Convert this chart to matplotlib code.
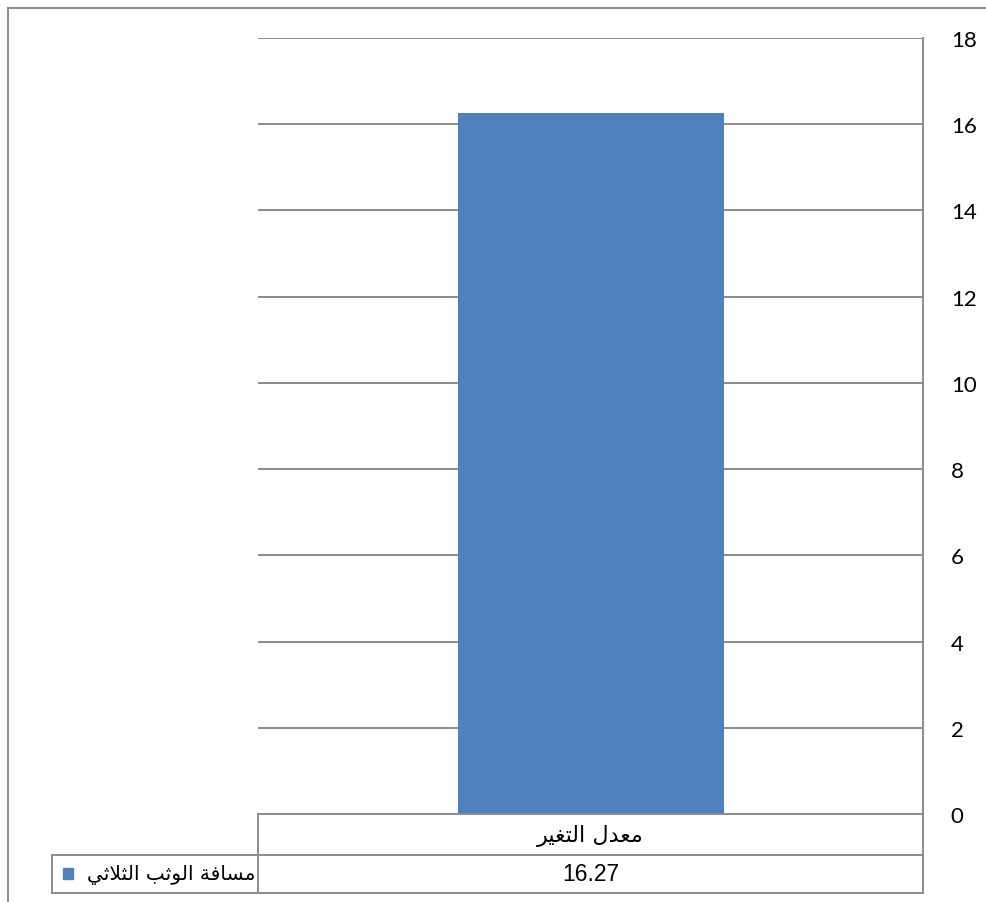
import matplotlib
matplotlib.use("Agg")
import matplotlib.pyplot as plt
from matplotlib.lines import Line2D
from matplotlib.patches import Rectangle

# ---- data ----
categories = ["معدل التغير"]
series_name = "مسافة الوثب الثلاثي"
values = [16.27]
value_labels = ["16.27"]
y_ticks = [0, 2, 4, 6, 8, 10, 12, 14, 16, 18]

# ---- minimal Arabic shaping (presentation forms) ----
FORMS = {
    'ا': (0xFE8D, 0xFE8E, None, None),
    'ب': (0xFE8F, 0xFE90, 0xFE91, 0xFE92),
    'ة': (0xFE93, 0xFE94, None, None),
    'ت': (0xFE95, 0xFE96, 0xFE97, 0xFE98),
    'ث': (0xFE99, 0xFE9A, 0xFE9B, 0xFE9C),
    'د': (0xFEA9, 0xFEAA, None, None),
    'ر': (0xFEAD, 0xFEAE, None, None),
    'س': (0xFEB1, 0xFEB2, 0xFEB3, 0xFEB4),
    'ع': (0xFEC9, 0xFECA, 0xFECB, 0xFECC),
    'غ': (0xFECD, 0xFECE, 0xFECF, 0xFED0),
    'ف': (0xFED1, 0xFED2, 0xFED3, 0xFED4),
    'ل': (0xFEDD, 0xFEDE, 0xFEDF, 0xFEE0),
    'م': (0xFEE1, 0xFEE2, 0xFEE3, 0xFEE4),
    'و': (0xFEED, 0xFEEE, None, None),
    'ي': (0xFEF1, 0xFEF2, 0xFEF3, 0xFEF4),
    'LA': (0xFEFB, 0xFEFC, None, None),
}


def shape(s):
    chars = []
    i = 0
    while i < len(s):
        if s[i] == 'ل' and i + 1 < len(s) and s[i + 1] == 'ا':
            chars.append('LA')
            i += 2
        else:
            chars.append(s[i])
            i += 1
    out = []
    for k, c in enumerate(chars):
        if c not in FORMS:
            out.append(c)
            continue
        f = FORMS[c]
        prev = chars[k - 1] if k > 0 else None
        nxt = chars[k + 1] if k + 1 < len(chars) else None
        jp = prev in FORMS and FORMS[prev][2] is not None
        jn = f[2] is not None and nxt in FORMS
        if jp and jn:
            cp = f[3]
        elif jp:
            cp = f[1]
        elif jn:
            cp = f[2]
        else:
            cp = f[0]
        out.append(chr(cp))
    return ''.join(reversed(out))


W, H = 986, 903
fig = plt.figure(figsize=(W / 100, H / 100), dpi=100)

def fx(x):
    return x / W

def fy(y):
    return 1 - y / H

GRID = "#8c8c8c"
BAR = "#4f81bd"

# plot area in pixels
L, R, T, B = 258, 923, 39, 815
ax = fig.add_axes([fx(L), fy(B), fx(R) - fx(L), fy(T) - fy(B)])
ax.set_xlim(-0.5, 0.5)
ax.set_ylim(0, 18)
ax.bar(range(len(values)), values, width=0.40, color=BAR, zorder=3)
for t in y_ticks[1:]:
    ax.axhline(t, color=GRID, lw=1.4, zorder=1)
for s in ax.spines.values():
    s.set_visible(False)
ax.set_xticks([])
ax.yaxis.tick_right()
ax.set_yticks(y_ticks)
ax.set_yticklabels([str(t) for t in y_ticks], fontsize=16, family="Lato")
ax.tick_params(axis="y", length=0, pad=20)

def hline(x0, x1, y):
    fig.add_artist(Line2D([fx(x0), fx(x1)], [fy(y), fy(y)], color=GRID, lw=1.4))

def vline(x, y0, y1):
    fig.add_artist(Line2D([fx(x), fx(x)], [fy(y0), fy(y1)], color=GRID, lw=1.4))

# outer frame
hline(8, W + 5, 9)
vline(8, 9, H + 5)

# right edge of plot + table
vline(R, T, 894)
# data table
hline(L, R, B)
hline(52, R, 856)
hline(52, R, 894)
vline(L, B, 894)
vline(52, 856, 894)

cx = (L + R) / 2
fig.text(fx(cx), fy(836), shape(categories[0]), ha="center", va="center",
         fontsize=16, family="DejaVu Sans")
fig.text(fx(cx), fy(875), value_labels[0], ha="center", va="center",
         fontsize=16.5, family="Liberation Sans")
fig.text(fx(255), fy(875), shape(series_name), ha="right", va="center",
         fontsize=14.5, family="DejaVu Sans")
fig.add_artist(Rectangle((fx(63), fy(880)), fx(10), 11 / H, color=BAR,
                         transform=fig.transFigure))

fig.savefig("out.png", dpi=100)
